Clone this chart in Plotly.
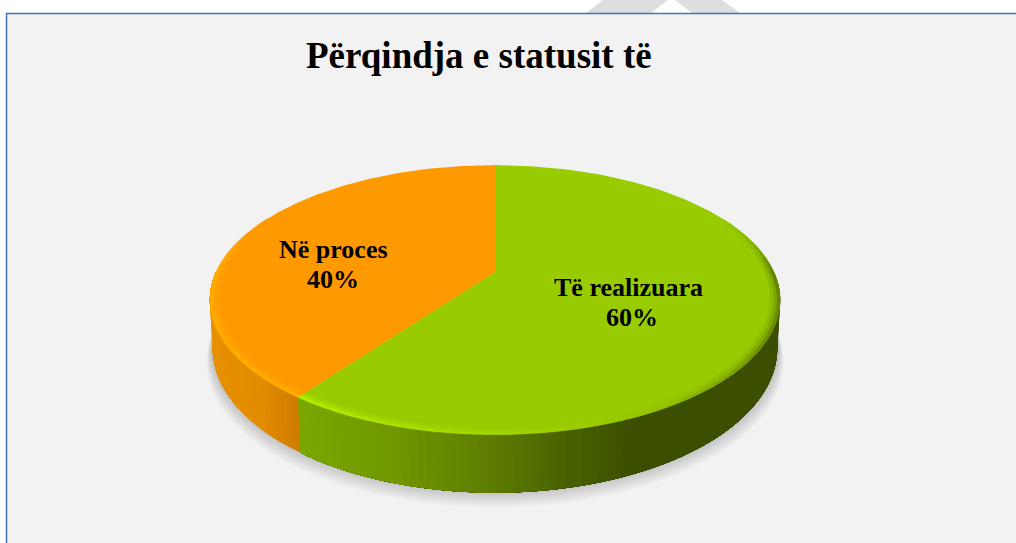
import numpy as np
import plotly.graph_objects as go

TITLE = "Përqindja e statusit të"
categories = ["Të realizuara", "Në proces"]
values = [60, 40]
percent_labels = ["60%", "40%"]
name_pos = [(628, 287), (333, 249)]
pct_pos = [(632, 317), (333, 279)]
top_colors = ["#99cc00", "#ff9900"]

W, H = 1016, 543
CX, CY, A, B, K = 495, 272, 129, 279, 0.207
DEPTH = 46


def project(theta, r=1.0):
    u = r * np.sin(theta)
    v = r * np.cos(theta)
    d = 1 + K * v
    return CX + B * u / d, CY - A * v / d


def project_low(theta, scale=0.99, extra=0.0, dy=0.0):
    x, y = project(theta)
    v = np.cos(theta)
    return CX + (x - CX) * (scale + extra), y + DEPTH / (1 + K * v) + dy


def lerp_color(stops, t):
    xs = [s[0] for s in stops]
    cols = np.array([s[1] for s in stops], dtype=float)
    return "rgb(%d,%d,%d)" % tuple(np.interp(t, xs, cols[:, i]) for i in range(3))


def poly(x, y, color, lw=0):
    return go.Scatter(x=list(x), y=list(y), mode="lines", fill="toself", fillcolor=color,
                      line=dict(width=lw, color=color), hoverinfo="skip", showlegend=False)


wall_stops = [
    [(303, (122, 168, 0)), (400, (112, 150, 0)), (500, (92, 122, 0)),
     (570, (72, 96, 0)), (630, (61, 80, 0)), (780, (60, 78, 0))],
    [(210, (232, 146, 0)), (260, (226, 140, 0)), (303, (205, 122, 0))],
]
rim_outer = [
    [(0, (153, 204, 0)), (np.pi * 0.3, (130, 170, 0)), (np.pi * 0.5, (98, 128, 0)),
     (np.pi * 0.68, (112, 146, 0)), (np.pi * 0.85, (150, 196, 0)), (np.pi * 1.2, (182, 240, 0))],
    [(0, (255, 153, 0)), (np.pi * 1.2, (255, 172, 0)), (2 * np.pi, (255, 172, 0))],
]

fractions = np.array(values, dtype=float) / sum(values)
edges = np.concatenate([[0], np.cumsum(fractions)]) * 2 * np.pi

fig = go.Figure()

# soft shadow below the disc
full = np.linspace(0, 2 * np.pi, 240)
for i in range(12):
    gx, gy = project_low(full, extra=0.0015 * (12 - i) + 0.004, dy=1.4 * (12 - i) - 2)
    fig.add_trace(poly(gx, gy, "rgba(0,0,0,0.014)"))

# side wall: each band runs on to the end of its slice, so the next one paints over it
for idx, (a0, a1) in enumerate(zip(edges[:-1], edges[1:])):
    lo = max(a0, np.pi / 2)
    hi = min(a1, 3 * np.pi / 2)
    if hi <= lo:
        continue
    steps = max(int((hi - lo) / 0.025), 1)
    cuts = np.linspace(lo, hi, steps + 1)
    for c0, c1 in zip(cuts[:-1], cuts[1:]):
        t = np.linspace(c0, hi, 60)
        x1, y1 = project(t)
        x2, y2 = project_low(t[::-1])
        col = lerp_color(wall_stops[idx], project((c0 + c1) / 2)[0])
        fig.add_trace(poly(np.r_[x1, x2], np.r_[y1, y2], col))

# top surface
for idx, (a0, a1) in enumerate(zip(edges[:-1], edges[1:])):
    t = np.linspace(a0, a1, 200)
    x, y = project(t)
    fig.add_trace(poly(np.r_[CX, x, CX], np.r_[CY, y, CY], top_colors[idx]))

# bevel on the rim, fading out towards the back of the disc
for idx, (a0, a1) in enumerate(zip(edges[:-1], edges[1:])):
    base = np.array([int(top_colors[idx][i:i + 2], 16) for i in (1, 3, 5)], dtype=float)
    steps = max(int((a1 - a0) / 0.05), 1)
    cuts = np.linspace(a0, a1, steps + 1)
    stops = rim_outer[idx]
    for c0, c1 in zip(cuts[:-1], cuts[1:]):
        mid = (c0 + c1) / 2
        fade = float(np.clip((0.45 - np.cos(mid)) / 0.45, 0, 1))
        if fade <= 0:
            continue
        t = np.linspace(c0, c1, 4)
        xs = [s[0] for s in stops]
        outer = np.array([np.interp(mid, xs, [s[1][j] for s in stops]) for j in range(3)])
        for r_out, r_in, w in [(1.0, 0.988, 1.0), (0.988, 0.977, 0.55), (0.977, 0.966, 0.22)]:
            x1, y1 = project(t, r_out)
            x2, y2 = project(t[::-1], r_in)
            c = base + (outer - base) * w * fade
            fig.add_trace(poly(np.r_[x1, x2], np.r_[y1, y2], "rgb(%d,%d,%d)" % tuple(c), lw=0.4))

annotations = [dict(x=(304 + 654) / 2, y=55, text=f"<b>{TITLE}</b>", showarrow=False, xref="x", yref="y",
                    font=dict(family="Liberation Serif", size=37, color="#000000"))]
for name, pct, (nx, ny), (px, py) in zip(categories, percent_labels, name_pos, pct_pos):
    for text, x, y in [(name, nx, ny), (pct, px, py)]:
        annotations.append(dict(x=x, y=y, text=f"<b>{text}</b>", showarrow=False,
                                xref="x", yref="y", align="center",
                                font=dict(family="Liberation Serif", size=26, color="#000000")))

shapes = [
    dict(type="path", path="M586,13 L603,0 L668,0 L651,13 Z", fillcolor="#dedede", line_width=0, layer="below"),
    dict(type="path", path="M692,13 L675,0 L722,0 L740,13 Z", fillcolor="#dedede", line_width=0, layer="below"),
    dict(type="rect", x0=6.5, y0=13.5, x1=W + 10, y1=H + 10, fillcolor="#f2f2f2",
         line=dict(color="#4472c4", width=1.5), layer="below"),
]

fig.update_layout(
    width=W, height=H, margin=dict(l=0, r=0, t=0, b=0),
    paper_bgcolor="#ffffff", plot_bgcolor="#ffffff", showlegend=False,
    xaxis=dict(range=[0, W], visible=False, fixedrange=True),
    yaxis=dict(range=[H, 0], visible=False, fixedrange=True),
    annotations=annotations, shapes=shapes,
)
fig.write_html("out.html", config={"displayModeBar": False},
               post_script="document.body.style.margin='0';document.body.style.overflow='hidden';")
